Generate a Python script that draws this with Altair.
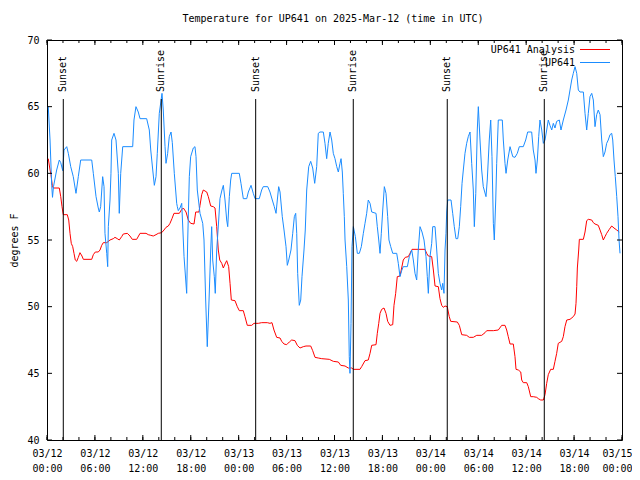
import altair as alt
import pandas as pd

MONO = "DejaVu Sans Mono"
TITLE = "Temperature for UP641 on 2025-Mar-12 (time in UTC)"

# hours after 2025-03-12 00:00 UTC
obs_hours = [0.16, 0.38, 0.59, 0.69, 0.81, 1.21, 1.54, 1.72, 1.97, 2.13, 2.47, 2.67, 2.97, 3.29, 3.63,
             3.92, 4.22, 5.60, 5.80, 6.14, 6.42, 6.55, 6.72, 6.97, 7.14, 7.26, 7.48, 7.60, 7.68, 7.89,
             8.01, 8.10, 8.39, 8.64, 8.93, 9.05, 9.23, 9.48, 10.73, 10.89, 11.14, 11.43, 11.65, 12.48,
             12.81, 12.99, 13.24, 13.44, 13.65, 13.81, 14.06, 14.40, 14.56, 14.78, 14.90, 15.11, 15.31,
             15.53, 15.69, 15.94, 16.24, 16.32, 16.44, 16.65, 16.87, 17.16, 17.37, 17.49, 17.62, 17.82,
             17.99, 18.32, 18.53, 18.66, 18.82, 19.16, 19.50, 19.66, 19.87, 20.07, 20.29, 20.50, 20.62,
             20.75, 20.95, 21.07, 21.25, 21.50, 21.66, 21.91, 22.08, 22.29, 22.50, 22.63, 22.83, 23.00,
             23.13, 24.08, 24.29, 24.58, 25.01, 25.21, 25.55, 25.83, 26.05, 26.58, 26.88, 27.08, 27.64,
             27.92, 28.21, 28.46, 28.68, 28.84, 29.01, 29.18, 29.46, 29.68, 29.93, 30.09, 30.27, 30.55,
             30.77, 30.97, 31.14, 31.27, 31.39, 31.59, 31.77, 31.93, 32.18, 32.34, 32.52, 32.77, 33.02,
             33.27, 33.52, 33.77, 33.97, 34.18, 34.60, 34.81, 35.02, 35.22, 35.44, 35.65, 35.85, 36.06,
             36.28, 36.48, 36.69, 36.82, 36.98, 37.10, 37.23, 37.32, 37.53, 37.73, 37.85, 37.94, 38.07,
             38.19, 38.36, 38.61, 38.86, 39.11, 39.36, 39.61, 39.82, 40.03, 40.23, 40.45, 40.66, 41.20,
             41.36, 41.54, 41.70, 41.86, 42.04, 42.24, 42.45, 42.66, 42.82, 43.04, 43.29, 43.79, 43.99,
             44.20, 44.41, 44.61, 45.12, 45.37, 45.67, 45.87, 46.08, 46.29, 46.49, 46.71, 46.96, 47.21,
             47.46, 47.62, 47.75, 47.96, 48.17, 48.30, 48.59, 48.80, 49.00, 49.21, 49.42, 49.55, 49.71,
             49.84, 49.96, 50.05, 50.18, 50.59, 50.80, 51.00, 51.21, 51.43, 51.63, 51.80, 51.97, 52.13,
             52.34, 52.55, 52.75, 52.97, 53.18, 53.38, 53.51, 53.69, 53.88, 54.01, 54.22, 54.43, 54.63,
             54.97, 55.13, 55.38, 55.56, 55.72, 55.89, 56.01, 56.19, 56.31, 56.51, 57.01, 57.14, 57.35,
             57.48, 57.69, 57.98, 58.32, 58.60, 58.89, 59.14, 59.64, 59.94, 60.19, 60.69, 60.89, 61.11,
             61.23, 61.40, 61.57, 61.73, 61.95, 62.15, 62.36, 62.57, 62.77, 62.98, 63.20, 63.40, 63.61,
             63.82, 64.15, 64.36, 64.65, 64.99, 65.28, 65.49, 65.70, 65.90, 66.12, 66.33, 66.53, 66.74,
             67.16, 67.37, 67.58, 67.78, 67.99, 68.21, 68.41, 68.62, 68.83, 69.03, 69.25, 69.46, 69.66,
             69.87, 70.08, 70.28, 70.50, 70.71, 70.84, 71.00, 71.16, 71.34, 71.50, 71.63, 71.75]
obs_temp = [65.0, 62.5, 59.1, 58.2, 59.0, 60.25, 61.0, 60.8, 60.2, 61.75, 62.0, 61.5, 60.5, 59.75, 58.5,
            59.75, 61.0, 61.0, 60.0, 58.25, 57.4, 57.1, 57.5, 59.75, 59.0, 55.5, 54.0, 53.0, 56.0, 58.0,
            60.0, 62.5, 63.0, 62.5, 60.0, 57.0, 60.0, 62.0, 62.0, 64.0, 65.0, 64.6, 64.1, 64.1,
            63.25, 61.75, 60.25, 59.1, 59.75, 61.5, 64.5, 66.0, 64.75, 62.0, 60.75, 61.5, 62.75,
            63.1, 62.3, 60.0, 57.75, 57.5, 57.2, 57.4, 57.75, 53.75, 52.0, 51.0, 55.0, 59.75,
            61.25, 61.9, 62.0, 61.25, 58.75, 57.0, 56.25, 55.0, 50.5, 47.0, 50.5, 54.25, 56.0,
            53.5, 52.25, 51.0, 54.25, 56.5, 58.1, 58.75, 59.1, 58.0, 56.5, 56.0, 58.25, 59.5,
            60.0, 60.0, 59.25, 58.1, 58.1, 58.6, 59.1, 58.5, 58.1, 58.1, 58.75, 59.0, 59.0,
            58.6, 58.0, 57.5, 57.0, 58.0, 59.0, 58.6, 56.75, 55.75, 54.5, 53.1, 53.5, 54.25,
            55.5, 56.75, 57.0, 55.5, 52.5, 50.1, 50.5, 52.25, 54.25, 55.75, 58.75, 60.5, 60.9,
            60.4, 59.25, 60.5, 63.0, 63.1, 63.1, 62.25, 61.1, 62.25, 63.1, 62.5, 61.5, 61.1,
            60.5, 60.1, 60.75, 61.1, 60.1, 58.5, 56.75, 55.0, 53.0, 50.5, 46.25, 45.0, 48.75,
            54.5, 56.0, 55.25, 54.0, 54.0, 54.5, 55.5, 56.25, 57.0, 58.0, 57.75, 57.1, 57.0,
            56.0, 55.0, 54.0, 55.5, 57.25, 59.0, 58.5, 56.75, 55.0, 54.5, 54.0, 54.0, 53.25,
            52.25, 52.7, 53.0, 53.0, 53.75, 54.25, 53.5, 52.5, 52.0, 54.25, 56.0, 55.6, 55.0,
            53.75, 52.25, 51.0, 53.75, 54.75, 56.0, 56.0, 54.25, 52.5, 51.75, 51.25, 51.75, 51.0,
            54.25, 55.5, 57.1, 58.0, 58.0, 57.0, 56.0, 55.1, 55.1, 56.0, 57.5, 59.25, 60.25,
            61.5, 62.25, 62.75, 63.1, 60.75, 58.75, 56.0, 58.5, 63.25, 65.0, 62.5, 60.25, 59.0,
            58.25, 59.5, 62.5, 64.0, 61.25, 56.25, 55.0, 58.0, 60.75, 64.0, 64.0, 62.5, 60.75,
            60.0, 61.0, 62.0, 61.25, 61.2, 61.5, 62.0, 62.0, 62.5, 63.1, 63.1, 61.75, 61.0,
            60.0, 61.0, 62.75, 64.0, 63.25, 62.25, 62.5, 63.25, 64.0, 63.6, 63.25, 63.75, 63.4,
            63.9, 64.0, 63.25, 64.0, 64.75, 65.5, 66.25, 67.0, 67.5, 68.0, 67.5, 66.25, 66.1,
            66.1, 64.5, 63.25, 64.5, 65.75, 66.0, 65.5, 63.5, 64.4, 64.75, 64.4, 62.5, 61.25,
            61.6, 62.25, 62.5, 62.9, 63.0, 62.5, 61.0, 59.75, 58.25, 56.75, 55.0, 54.0]

ana_hours = [0.16, 0.38, 0.50, 0.66, 0.79, 1.54, 1.72, 1.88, 2.04, 2.54, 2.72, 2.88, 3.04, 3.22, 3.38,
             3.54, 3.72, 3.92, 4.13, 4.38, 4.55, 5.60, 5.80, 6.05, 6.42, 6.64, 6.85, 7.05, 7.48, 7.89,
             8.30, 8.51, 8.80, 9.05, 9.35, 9.55, 10.06, 10.39, 10.68, 11.23, 11.65, 12.40, 12.68, 12.99,
             13.31, 13.65, 13.94, 14.36, 14.65, 14.90, 15.19, 15.40, 15.65, 15.90, 16.57, 16.82, 17.07,
             17.41, 17.69, 17.99, 18.41, 18.62, 19.03, 19.16, 19.37, 19.57, 20.00, 20.20, 20.50, 20.82,
             21.04, 21.25, 21.45, 21.63, 21.88, 22.08, 22.29, 22.50, 22.75, 22.92, 23.08, 23.54, 23.83,
             24.08, 24.58, 24.79, 25.08, 25.63, 25.92, 26.46, 26.88, 27.59, 27.92, 28.17, 28.42, 28.76,
             29.18, 29.39, 29.68, 30.01, 30.34, 30.64, 31.05, 31.34, 31.68, 32.09, 32.43, 33.02, 33.27,
             33.56, 33.97, 34.40, 35.35, 35.85, 36.48, 36.78, 37.32, 37.73, 38.15, 38.36, 39.19, 39.40,
             39.82, 40.23, 40.45, 40.66, 41.20, 41.36, 41.54, 41.70, 41.91, 42.20, 42.45, 42.66, 42.95,
             43.29, 43.45, 43.66, 43.86, 44.20, 44.41, 44.61, 44.86, 45.24, 45.45, 45.71, 47.33, 47.54,
             47.75, 48.17, 48.38, 48.59, 49.00, 49.21, 49.42, 49.62, 49.84, 50.12, 50.37, 50.55, 51.38,
             51.63, 51.93, 52.55, 52.88, 53.38, 53.81, 54.43, 54.85, 55.06, 55.89, 56.51, 56.94, 57.35,
             57.56, 57.76, 57.98, 58.39, 58.60, 58.73, 59.02, 59.32, 59.44, 59.64, 60.07, 60.27, 60.57,
             60.89, 61.32, 61.52, 61.82, 62.15, 62.36, 62.57, 62.77, 63.07, 63.40, 63.61, 63.82, 64.02,
             64.45, 64.65, 64.86, 65.08, 65.49, 65.90, 66.12, 66.24, 66.33, 66.41, 66.58, 66.66, 67.16,
             67.37, 67.58, 67.78, 68.21, 68.41, 68.62, 69.03, 69.25, 69.46, 69.66, 69.87, 70.08, 70.41,
             70.71, 71.00, 71.34, 71.66]
ana_temp = [61.1, 60.25, 59.9, 59.1, 58.9, 58.9, 58.25, 57.5, 56.9, 56.9, 56.5, 55.5, 54.75, 54.5, 54.0,
            53.5, 53.4, 53.7, 54.05, 53.8, 53.55, 53.55, 53.9, 54.1, 54.1, 54.25, 54.6, 54.8, 54.8, 55.0,
            55.1, 55.2, 55.1, 55.0, 55.25, 55.45, 55.5, 55.3, 55.05, 55.05, 55.5, 55.5, 55.4, 55.35,
            55.3, 55.4, 55.5, 55.55, 55.75, 55.95, 56.05, 56.25, 56.6, 57.0, 57.0, 57.25, 57.4,
            57.1, 56.5, 56.25, 56.2, 57.1, 57.1, 57.6, 58.4, 58.75, 58.6, 58.25, 57.55, 57.5,
            57.4, 56.0, 54.25, 53.5, 53.25, 52.9, 53.2, 53.45, 53.0, 51.75, 50.5, 50.45, 50.0,
            49.7, 49.7, 49.25, 48.6, 48.6, 48.75, 48.75, 48.8, 48.8, 48.75, 48.8, 48.25, 47.7,
            47.65, 47.4, 47.2, 47.15, 47.35, 47.5, 47.45, 47.1, 46.9, 47.0, 47.05, 47.05, 46.7,
            46.2, 46.15, 46.1, 46.05, 45.9, 45.85, 45.6, 45.55, 45.4, 45.4, 45.3, 45.3, 45.5,
            45.95, 46.0, 46.5, 47.1, 47.15, 48.0, 48.75, 49.5, 49.8, 49.9, 49.5, 48.9, 48.6,
            48.65, 50.1, 51.0, 52.25, 52.3, 52.9, 53.5, 53.7, 53.75, 54.0, 54.3, 54.3, 54.0,
            53.8, 53.75, 52.75, 51.55, 51.5, 50.6, 50.1, 49.95, 50.05, 50.0, 49.25, 48.9, 48.85,
            48.6, 47.9, 47.85, 47.7, 47.7, 47.85, 47.85, 48.05, 48.2, 48.2, 48.25, 48.6, 48.6,
            48.25, 47.75, 47.2, 47.2, 46.25, 45.3, 45.25, 45.1, 44.5, 44.3, 44.3, 44.0, 43.25,
            43.25, 43.2, 43.1, 43.0, 43.0, 43.4, 44.25, 44.9, 45.3, 45.3, 45.9, 46.5, 47.25,
            47.4, 47.75, 48.5, 49.0, 49.05, 49.25, 49.45, 50.25, 51.5, 52.9, 54.25, 55.05, 55.05,
            55.6, 56.45, 56.55, 56.5, 56.3, 56.2, 56.1, 55.75, 55.4, 55.0, 55.25, 55.5, 55.8,
            56.05, 55.9, 55.75, 55.6]

sun_hours = [2.04, 14.31, 26.13, 38.35, 50.12, 62.27]
sun_labels = ["Sunset", "Sunrise", "Sunset", "Sunrise", "Sunset", "Sunrise"]

x_major = [0, 6, 12, 18, 24, 30, 36, 42, 48, 54, 60, 66, 72]
x_minor = list(range(0, 73, 2))
y_major = [40, 45, 50, 55, 60, 65, 70]

W, H = 575, 400
RED = "#ff0000"
BLUE = "#1a8cff"

obs = pd.DataFrame({"h": obs_hours, "t": obs_temp})
ana = pd.DataFrame({"h": ana_hours, "t": ana_temp})
sun = pd.DataFrame({"h": sun_hours, "label": sun_labels})
xmaj = pd.DataFrame({"h": x_major})
xmin = pd.DataFrame({"h": x_minor})
ymaj = pd.DataFrame({"t": y_major})
one = pd.DataFrame({"k": [0]})

xscale = alt.Scale(domain=[0, 72], nice=False, zero=False)
yscale = alt.Scale(domain=[40, 70], nice=False, zero=False)

x_axis = alt.Axis(
    values=x_major, grid=False, ticks=False, domain=False, title=None,
    labelExpr="['03/' + (12 + floor(datum.value / 24)), (datum.value % 24 < 10 ? '0' : '') + (datum.value % 24) + ':00']",
    labelFont=MONO, labelFontSize=10, labelColor="black", labelPadding=8,
    labelLineHeight=15, labelBaseline="top", labelFlush=False, labelOverlap=False,
    labelOffset={"condition": {"test": "datum.value == 72", "value": -5}, "value": 0},
)
y_axis = alt.Axis(
    values=y_major, grid=False, ticks=False, domain=False,
    title="degrees F", titleFont=MONO, titleFontSize=10, titleFontWeight="normal",
    titleColor="black", titleX=-33, titleY=200, titleAngle=270, titleAlign="center",
    titleBaseline="middle",
    labelFont=MONO, labelFontSize=10, labelColor="black", labelPadding=8,
)

X = alt.X("h:Q", scale=xscale, axis=x_axis)
Y = alt.Y("t:Q", scale=yscale, axis=y_axis)

ana_line = alt.Chart(ana).mark_line(color=RED, strokeWidth=1).encode(x=X, y=Y)
obs_line = alt.Chart(obs).mark_line(color=BLUE, strokeWidth=1).encode(x=X, y=Y)

tick_rule = dict(color="black", strokeWidth=1)
bot_major = alt.Chart(xmaj).mark_rule(**tick_rule).encode(x=X, y=alt.value(H), y2=alt.value(H - 5))
top_major = alt.Chart(xmaj).mark_rule(**tick_rule).encode(x=X, y=alt.value(0), y2=alt.value(5))
bot_minor = alt.Chart(xmin).mark_rule(**tick_rule).encode(x=X, y=alt.value(H), y2=alt.value(H - 3))
top_minor = alt.Chart(xmin).mark_rule(**tick_rule).encode(x=X, y=alt.value(0), y2=alt.value(3))
left_t = alt.Chart(ymaj).mark_rule(**tick_rule).encode(y=Y, x=alt.value(0), x2=alt.value(5))
right_t = alt.Chart(ymaj).mark_rule(**tick_rule).encode(y=Y, x=alt.value(W), x2=alt.value(W - 5))

sun_rule = alt.Chart(sun).mark_rule(color="black", strokeWidth=1).encode(
    x=X, y=alt.value(H), y2=alt.value(59))
sun_text = alt.Chart(sun).mark_text(
    angle=270, align="left", baseline="middle", font=MONO, fontSize=10, color="black"
).encode(x=X, y=alt.value(52), text="label:N")

title = alt.Chart(one).mark_text(
    font=MONO, fontSize=10, color="black", align="center", baseline="middle"
).encode(x=alt.value(286), y=alt.value(-21), text=alt.value(TITLE))

leg_txt1 = alt.Chart(one).mark_text(font=MONO, fontSize=10, color="black", align="right",
                                    baseline="middle").encode(
    x=alt.value(528), y=alt.value(9.5), text=alt.value("UP641 Analysis"))
leg_txt2 = alt.Chart(one).mark_text(font=MONO, fontSize=10, color="black", align="right",
                                    baseline="middle").encode(
    x=alt.value(528), y=alt.value(22.5), text=alt.value("UP641"))
leg_l1 = alt.Chart(one).mark_rule(color=RED, strokeWidth=1).encode(
    x=alt.value(533), x2=alt.value(563), y=alt.value(9.5))
leg_l2 = alt.Chart(one).mark_rule(color=BLUE, strokeWidth=1).encode(
    x=alt.value(533), x2=alt.value(563), y=alt.value(22.5))

chart = alt.layer(
    ana_line, obs_line, sun_rule, sun_text,
    bot_major, top_major, bot_minor, top_minor, left_t, right_t,
    title, leg_txt1, leg_txt2, leg_l1, leg_l2,
).properties(
    width=W, height=H,
    autosize=alt.AutoSizeParams(type="none"),
    padding={"left": 39, "top": 32, "right": 10, "bottom": 32},
    background="white",
).configure_view(stroke="black", strokeWidth=1)

chart.save("out.html", embed_options={"renderer": "svg", "actions": False})
